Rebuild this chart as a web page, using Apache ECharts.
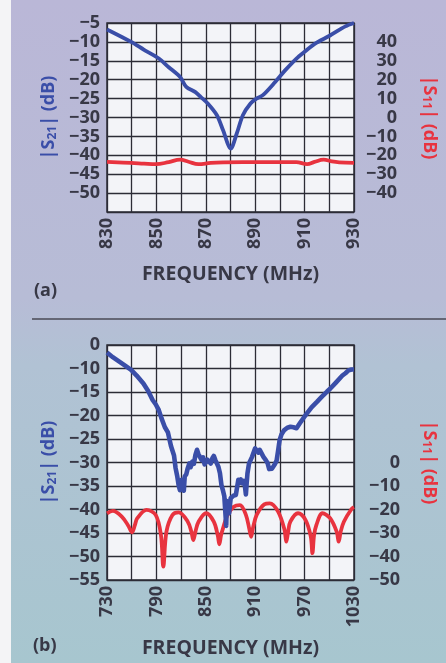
<!DOCTYPE html>
<html><head><meta charset="utf-8">
<script src="https://cdn.jsdelivr.net/npm/echarts@6/dist/echarts.min.js"></script>
<style>html,body{margin:0;padding:0;}#c{width:446px;height:663px;}</style>
</head><body><div id="c"></div>
<script>
// ---------- Panel (a) data ----------
const freqA_S21 = [830, 839.8, 845, 851, 855, 859.6, 862.1, 865.8, 868, 870.8, 874.5, 877, 880.1, 882.5, 885, 888.1, 890.5, 893.1, 898.1, 902, 906.7, 910, 914.1, 920.3, 926.5, 930];
const valA_S21  = [-6.7, -10, -12.1, -14.4, -16.7, -19.3, -21.9, -23.3, -24.6, -26.3, -29.4, -33.4, -38.2, -34.3, -29.4, -26.3, -25, -24.1, -20.6, -17.6, -14.4, -12.6, -10.5, -8.3, -5.9, -5];
const freqA_S11 = [830, 839.7, 845, 849.7, 855, 859.6, 863, 867, 872, 877, 885, 895, 906.6, 911, 914, 917.7, 921, 924, 930];
const valA_S11  = [-23.5, -24, -24.4, -24.7, -23.6, -22.3, -23.4, -24.7, -24, -23.7, -23.6, -23.6, -23.6, -24.7, -23.5, -22.3, -23.2, -23.7, -24];
const xLabelsA = ['830', '850', '870', '890', '910', '930'];
const yLabelsA = ['-5', '-10', '-15', '-20', '-25', '-30', '-35', '-40', '-45', '-50'];
const yTickValsA = [-5, -10, -15, -20, -25, -30, -35, -40, -45, -50];
const rLabelsA = ['40', '30', '20', '10', '0', '-10', '-20', '-30', '-40'];
const rTickValsA = [40, 30, 20, 10, 0, -10, -20, -30, -40];

// ---------- Panel (b) data ----------
const freqB_S21 = [730, 737, 744.5, 752, 759.3, 766, 774.2, 780, 785.4, 789.1, 792.8, 796, 800.3, 804, 807.7, 811.4, 813.3, 815.2, 817, 818.6, 820.7, 822, 823.3, 824.4, 826.3, 828.1, 830, 831.5, 833.7, 835.5, 837.4, 839.3, 841, 843, 845, 846.8, 848.5, 850.4, 852, 854.1, 856, 858, 859.7, 861.6, 863.5, 865.3, 867.2, 869, 870.9, 872.5, 873.9, 874.8, 875.6, 876.4, 877.5, 878.3, 880.2, 882, 884, 886.5, 888, 889.5, 891, 892.5, 894, 896.2, 897.5, 898.7, 899.6, 900.6, 902.5, 904.5, 906.2, 908.1, 909.9, 911.8, 913.7, 915.5, 917.4, 920, 922.9, 925, 927, 928.5, 930.4, 932.2, 934, 936, 937.8, 939.7, 942, 945.3, 949, 952.8, 956.4, 960.2, 964, 967.6, 973, 978.7, 985, 991, 997.3, 1001, 1008, 1015.9, 1019.6, 1023.3, 1027, 1030];
const valB_S21  = [-6.6, -7.6, -8.5, -9.4, -10.3, -11.5, -13.2, -14.8, -16.7, -17.6, -18.8, -20.5, -22.5, -23.6, -26.5, -28.5, -31.2, -32.8, -34.8, -35.9, -33.7, -35.5, -36, -33, -32.5, -31.2, -30.2, -31, -29.8, -30.3, -28.4, -27.3, -28.2, -28.6, -29.5, -28.9, -30.4, -30.2, -29.4, -29, -30.2, -29.1, -28.6, -29.5, -29.1, -30.9, -32.3, -34.8, -36, -37.2, -37.6, -43.5, -38.2, -38.7, -39.5, -40.8, -37.6, -37.8, -37, -36.9, -35.3, -33.7, -34.3, -33.6, -34.4, -33.9, -35, -36.8, -34.5, -32.3, -30.2, -30.3, -28.8, -28.6, -27, -27.2, -27.9, -27.3, -27.6, -28.8, -29.5, -30.1, -31.4, -31.8, -31.3, -30.9, -30.3, -29.6, -27.5, -25.2, -24, -23.1, -22.6, -22.4, -22.5, -22.7, -21.7, -20.8, -19.5, -18.2, -17.1, -16, -14.9, -14.3, -13, -11.5, -11, -10.4, -10.2, -10.2];
const freqB_S11 = [730, 737, 748.2, 756, 760.4, 764, 766.8, 778, 789.1, 795.5, 798.4, 802.2, 809.5, 817, 828.1, 832.5, 834.8, 837.5, 841.2, 850.4, 859.7, 864.5, 866.4, 868.5, 870.9, 876.4, 883.9, 891.4, 898.7, 903, 905.1, 907.5, 911.8, 921, 927.7, 937.8, 945.5, 947.8, 950, 952.7, 962, 971.2, 977.5, 979.5, 981.5, 984.3, 991.7, 1001, 1009, 1011.4, 1013.8, 1017.7, 1027, 1030];
const valB_S11  = [-21.6, -20.6, -23.1, -27, -29.7, -26.5, -23.7, -20.2, -22.3, -30.8, -44.3, -29.4, -22.3, -21.2, -25.2, -29.5, -33, -29.3, -25.2, -21.6, -25.2, -31, -34.8, -31, -28, -22.3, -18.8, -18.1, -22.3, -28.5, -31.6, -27.5, -22.3, -17.8, -17.4, -20.9, -28.5, -33.7, -29.5, -25.2, -21.6, -24.5, -31.5, -38.6, -31, -26.6, -21.6, -23.7, -29.5, -33.7, -29.5, -25.2, -19.8, -19];
const xLabelsB = ['730', '790', '850', '910', '970', '1030'];
const yLabelsB = ['0', '-10', '-15', '-20', '-25', '-30', '-35', '-40', '-45', '-50', '-55'];
const yTickValsB = [-5, -10, -15, -20, -25, -30, -35, -40, -45, -50, -55];
const rLabelsB = ['0', '-10', '-20', '-30', '-40', '-50'];
const rTickValsB = [0, -10, -20, -30, -40, -50];

// ---------- helpers ----------
const MINUS = '\u2212';
const fmtMinus = s => s.replace('-', MINUS);
function lookup(vals, labels) {
  return v => { const i = vals.indexOf(Math.round(v)); return i < 0 ? '' : fmtMinus(labels[i]); };
}
const pairs = (xs, ys, off) => xs.map((x, i) => [x - (off || 0), ys[i]]);

const TXT = '#383846';
const BLUE = '#3a4ea8';
const RED = '#e8333f';
const GRID = '#2c2c36';
const FONT = 'Open Sans';
const labelStyle = { color: TXT, fontFamily: FONT, fontWeight: 'bold', fontSize: 18 };

function nameRich(color) {
  return {
    color: color, fontFamily: FONT, fontWeight: 'bold', fontSize: 18,
    rich: {
      n: { color: color, fontFamily: FONT, fontWeight: 'bold', fontSize: 18 },
      s: { color: color, fontFamily: FONT, fontWeight: 'bold', fontSize: 12, padding: [6, 0, 0, 0] }
    }
  };
}

const grids = [
  { left: 107, top: 23, width: 269, height: 189, show: true, backgroundColor: '#f3f4f8', borderColor: GRID, borderWidth: 1.5 },
  { left: 107, top: 345, width: 269, height: 235, show: true, backgroundColor: '#f3f4f8', borderColor: GRID, borderWidth: 1.5 }
];

function xAxis(gi, min, max, interval, labelFn, nameGap) {
  return {
    type: 'value', gridIndex: gi, min: min, max: max, interval: interval,
    axisLine: { show: false }, axisTick: { show: false },
    splitLine: { show: true, lineStyle: { color: GRID, width: 1.3 } },
    axisLabel: Object.assign({ rotate: 90, margin: 6, formatter: labelFn }, labelStyle),
    name: 'FREQUENCY (MHz)', nameLocation: 'middle', nameGap: nameGap,
    nameTextStyle: { color: TXT, fontFamily: FONT, fontWeight: 'bold', fontSize: 19.5 }
  };
}
function yAxis(gi, pos, min, max, interval, labelFn, name, color, margin, nameGap, rot) {
  return {
    type: 'value', gridIndex: gi, position: pos, min: min, max: max, interval: interval,
    axisLine: { show: false }, axisTick: { show: false },
    splitLine: { show: pos === 'left', lineStyle: { color: GRID, width: 1.3 } },
    axisLabel: Object.assign({ margin: margin, formatter: labelFn, align: 'right' }, labelStyle),
    name: name, nameLocation: 'middle', nameGap: nameGap, nameRotate: rot,
    nameTextStyle: nameRich(color)
  };
}

const S21 = '{n||S}{s|21}{n|| (dB)}';
const S11 = '{n||S}{s|11}{n|| (dB)}';

const option = {
  animation: false,
  backgroundColor: {
    type: 'linear', x: 0, y: 0, x2: 0, y2: 1,
    colorStops: [
      { offset: 0, color: '#bab7d7' },
      { offset: 0.45, color: '#b7bcd6' },
      { offset: 0.55, color: '#b1c2d4' },
      { offset: 1, color: '#a7c6cf' }
    ]
  },
  grid: grids,
  xAxis: [
    xAxis(0, 830, 930, 10, v => { const s = String(Math.round(v)); return xLabelsA.includes(s) ? s : ''; }, 52),
    xAxis(1, 0, 300, 30, v => { const s = String(Math.round(v + 730)); return xLabelsB.includes(s) ? s : ''; }, 58)
  ],
  yAxis: [
    yAxis(0, 'left', -55, -5, 5, lookup(yTickValsA, yLabelsA), S21, BLUE, 7, 43, 90),
    yAxis(0, 'right', -50, 50, 10, lookup(rTickValsA, rLabelsA), S11, RED, 43, 66, -90),
    yAxis(1, 'left', -55, -5, 5, lookup(yTickValsB, yLabelsB), S21, BLUE, 7, 43, 90),
    yAxis(1, 'right', -50, 50, 10, lookup(rTickValsB, rLabelsB), S11, RED, 46, 66, -90)
  ],
  series: [
    { type: 'line', xAxisIndex: 0, yAxisIndex: 1, data: pairs(freqA_S11, valA_S11), showSymbol: false, smooth: 0.4, lineStyle: { color: RED, width: 3.8 } },
    { type: 'line', xAxisIndex: 0, yAxisIndex: 0, data: pairs(freqA_S21, valA_S21), showSymbol: false, smooth: 0.3, lineStyle: { color: BLUE, width: 3.8 } },
    { type: 'line', xAxisIndex: 1, yAxisIndex: 3, data: pairs(freqB_S11, valB_S11, 730), showSymbol: false, smooth: 0.35, lineStyle: { color: RED, width: 3.8 } },
    { type: 'line', xAxisIndex: 1, yAxisIndex: 2, data: pairs(freqB_S21, valB_S21, 730), showSymbol: false, smooth: false, lineStyle: { color: BLUE, width: 4.6, join: 'round' } }
  ],
  graphic: [
    { type: 'rect', left: 0, top: 0, shape: { width: 11, height: 663 }, style: { fill: '#f4f4f6' }, silent: true },
    { type: 'line', shape: { x1: 32, y1: 319, x2: 446, y2: 319 }, style: { stroke: '#4a4a55', lineWidth: 1.5 } },
    { type: 'text', left: 34, top: 282, style: { text: '(a)', fill: TXT, font: 'bold 18px "Open Sans"' } },
    { type: 'text', left: 33, top: 637, style: { text: '(b)', fill: TXT, font: 'bold 18px "Open Sans"' } }
  ]
};
echarts.init(document.getElementById('c'), null, { renderer: 'canvas' }).setOption(option);
</script>
</body></html>
